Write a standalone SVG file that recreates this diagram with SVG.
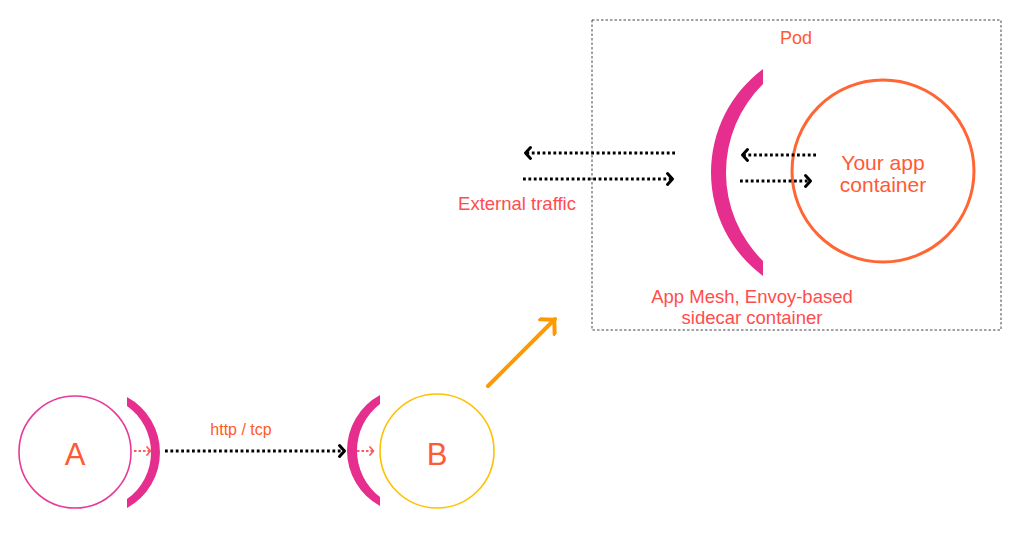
<svg xmlns="http://www.w3.org/2000/svg" width="1024" height="557" viewBox="0 0 1024 557">
  <style>
    text { font-family: "Liberation Sans", Arial, sans-serif; text-anchor: middle; }
    .lbl { fill: #FF4D4D; font-size: 18.5px; }
    .org { fill: #FF5A36; }
    .bracket { fill: #E62E8F; }
    .dot { stroke: #000; stroke-width: 2.8; stroke-dasharray: 2.8 2.6; fill: none; }
    .pdot { stroke: #FF5A5A; stroke-width: 2; stroke-dasharray: 2.5 2; fill: none; }
  </style>
  <defs>
    <marker id="chev" viewBox="-9 -8 11 16" refX="0" refY="0" markerWidth="11" markerHeight="16" markerUnits="userSpaceOnUse" orient="auto">
      <path d="M-5.5,-5.5 L-0.5,0 L-5.5,5.5" fill="none" stroke="#000" stroke-width="3" stroke-linecap="round" stroke-linejoin="round"/>
    </marker>
    <marker id="pchev" viewBox="-6 -6 8 12" refX="0" refY="0" markerWidth="8" markerHeight="12" markerUnits="userSpaceOnUse" orient="auto">
      <path d="M-4,-4 L-0.5,0 L-4,4" fill="none" stroke="#FF5A5A" stroke-width="1.8" stroke-linecap="round" stroke-linejoin="round"/>
    </marker>
    <marker id="ochev" viewBox="-16 -12 18 24" refX="0" refY="0" markerWidth="18" markerHeight="24" markerUnits="userSpaceOnUse" orient="auto">
      <path d="M-11,-10.5 L-1,0 L-11,10.5" fill="none" stroke="#FF9900" stroke-width="4" stroke-linecap="round" stroke-linejoin="round"/>
    </marker>
  </defs>

  <g id="pod">
    <rect x="592" y="20" width="409" height="310" fill="none" stroke="#444" stroke-width="1" stroke-dasharray="2.5 2"/>
    <text x="796" y="44" font-size="18" fill="#FF5B33">Pod</text>
  </g>

  <g id="sidecar">
    <path class="bracket" d="M763,69 A129,129 0 0 0 763,276 L763,261 A124.3,124.3 0 0 1 763,84 Z"/>
    <text class="lbl" x="752" y="303">App Mesh, Envoy-based</text>
    <text class="lbl" x="752" y="324">sidecar container</text>
  </g>

  <g id="app">
    <circle cx="883" cy="171" r="91" fill="none" stroke="#FF6633" stroke-width="3"/>
    <text class="org" x="883" y="170" font-size="21">Your app</text>
    <text class="org" x="883" y="192" font-size="21">container</text>
  </g>

  <g id="external">
    <text class="lbl" x="517" y="210">External traffic</text>
  </g>

  <g id="nodeA">
    <circle cx="75" cy="452" r="56" fill="none" stroke="#E8389A" stroke-width="1.6"/>
    <text class="org" x="75" y="465" font-size="31">A</text>
    <path class="bracket" d="M127,397 A63.2,63.2 0 0 1 127,508 L127,499 A57,57 0 0 0 127,406 Z"/>
  </g>

  <g id="nodeB">
    <circle cx="437" cy="451" r="57" fill="none" stroke="#FFC000" stroke-width="1.6"/>
    <text class="org" x="437" y="465" font-size="31">B</text>
    <path class="bracket" d="M380,395 A63.2,63.2 0 0 0 380,506 L380,497 A58.5,58.5 0 0 1 380,404 Z"/>
  </g>

  <g id="connectors">
    <line class="dot" x1="675" y1="153" x2="525" y2="153" marker-end="url(#chev)"/>
    <line class="dot" x1="523" y1="179" x2="673" y2="179" marker-end="url(#chev)"/>
    <line class="dot" x1="816" y1="155" x2="742" y2="155" marker-end="url(#chev)"/>
    <line class="dot" x1="740" y1="181" x2="811" y2="181" marker-end="url(#chev)"/>
    <line class="dot" x1="165" y1="451" x2="345" y2="451" marker-end="url(#chev)"/>
    <line class="pdot" x1="134" y1="451" x2="151" y2="451" marker-end="url(#pchev)"/>
    <line class="pdot" x1="357" y1="451" x2="374" y2="451" marker-end="url(#pchev)"/>
    <line x1="488" y1="386" x2="555" y2="319" stroke="#FF9900" stroke-width="4" stroke-linecap="round" marker-end="url(#ochev)"/>
    <text x="241" y="435" font-size="16" fill="#FF5A1F">http  / tcp</text>
  </g>
</svg>
